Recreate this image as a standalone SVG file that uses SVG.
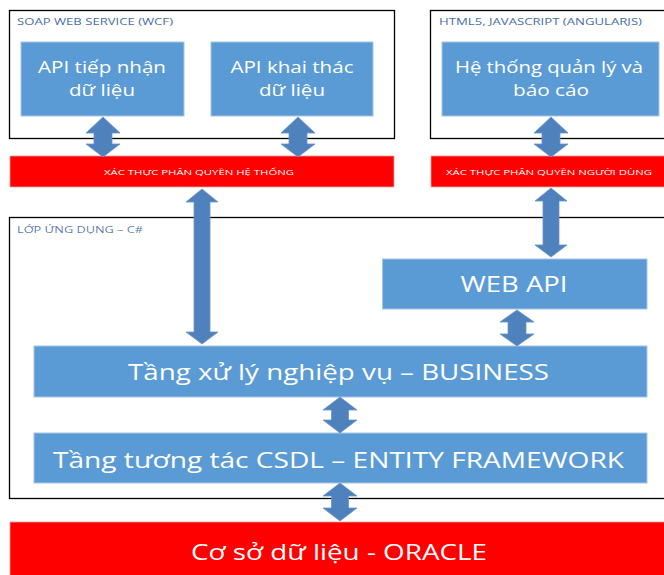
<svg xmlns="http://www.w3.org/2000/svg" width="664" height="575" viewBox="0 0 664 575">
<style>
.frame{fill:#fff;stroke:#000;stroke-width:1.3}
.blue{fill:#5b9bd5;stroke:#a9c4e3;stroke-width:1}
.red{fill:#ff0000;stroke:#e8a0a0;stroke-width:0.8}
.arr{fill:#4f81bd;stroke:#6a95c8;stroke-width:0.8}
.t{font-family:"Open Sans","Noto Sans","Liberation Sans",sans-serif;fill:#fff;text-anchor:middle}
.cap{font-family:"Open Sans","Noto Sans","Liberation Sans",sans-serif;fill:#4a6fa5}
</style>
<rect width="664" height="575" fill="#fff"/>
<g id="soap-frame">
<rect class="frame" x="9.5" y="10.5" width="385" height="128"/>
<text class="cap" x="17" y="25" font-size="9.5" textLength="156" lengthAdjust="spacingAndGlyphs">SOAP WEB SERVICE (WCF)</text>
</g>
<g id="html-frame">
<rect class="frame" x="430.5" y="10.5" width="240" height="128"/>
<text class="cap" x="439" y="25" font-size="9.5" textLength="203" lengthAdjust="spacingAndGlyphs">HTML5, JAVASCRIPT (ANGULARJS)</text>
</g>
<g id="app-frame">
<rect class="frame" x="9.5" y="217.5" width="670" height="281"/>
<text class="cap" x="17" y="233" font-size="9.5" textLength="126" lengthAdjust="spacingAndGlyphs" fill-opacity="0.9">LỚP ỨNG DỤNG – C#</text>
</g>
<g id="api-tiep-nhan">
<rect class="blue" x="21" y="42" width="163" height="74"/>
<text class="t" x="102" y="73" font-size="17" textLength="128" lengthAdjust="spacingAndGlyphs">API tiếp nhận</text>
<text class="t" x="102" y="96" font-size="17" textLength="66" lengthAdjust="spacingAndGlyphs">dữ liệu</text>
</g>
<g id="api-khai-thac">
<rect class="blue" x="211" y="42" width="162" height="74"/>
<text class="t" x="292" y="73" font-size="17" textLength="123" lengthAdjust="spacingAndGlyphs">API khai thác</text>
<text class="t" x="292" y="96" font-size="17" textLength="66" lengthAdjust="spacingAndGlyphs">dữ liệu</text>
</g>
<g id="he-thong">
<rect class="blue" x="442" y="42" width="217" height="74"/>
<text class="t" x="549" y="73" font-size="17" textLength="188" lengthAdjust="spacingAndGlyphs">Hệ thống quản lý và</text>
<text class="t" x="551" y="96" font-size="17" textLength="76" lengthAdjust="spacingAndGlyphs">báo cáo</text>
</g>
<g id="xac-thuc-he-thong">
<rect class="red" x="10" y="156" width="384" height="31"/>
<text class="t" x="199" y="175" font-size="8" textLength="190" lengthAdjust="spacingAndGlyphs">XÁC THỰC PHÂN QUYỀN HỆ THỐNG</text>
</g>
<g id="xac-thuc-nguoi-dung">
<rect class="red" x="431" y="156" width="240" height="31"/>
<text class="t" x="549" y="175" font-size="8" textLength="206" lengthAdjust="spacingAndGlyphs">XÁC THỰC PHÂN QUYỀN NGƯỜI DÙNG</text>
</g>
<g id="web-api">
<rect class="blue" x="382.5" y="259" width="264.5" height="50"/>
<text class="t" x="514" y="292" font-size="21" textLength="107" lengthAdjust="spacingAndGlyphs">WEB API</text>
</g>
<g id="business">
<rect class="blue" x="34" y="346" width="613" height="51"/>
<text class="t" x="338.5" y="380" font-size="21" textLength="421" lengthAdjust="spacingAndGlyphs">Tầng xử lý nghiệp vụ – BUSINESS</text>
</g>
<g id="entity-framework">
<rect class="blue" x="34" y="433" width="613" height="50"/>
<text class="t" x="338.5" y="468" font-size="21" textLength="571" lengthAdjust="spacingAndGlyphs">Tầng tương tác CSDL – ENTITY FRAMEWORK</text>
</g>
<g id="oracle">
<rect class="red" x="10" y="522" width="662" height="60"/>
<text class="t" x="339" y="560" font-size="22" textLength="296" lengthAdjust="spacingAndGlyphs">Cơ sở dữ liệu - ORACLE</text>
</g>
<g id="connectors">
<polygon class="arr" points="103,117 120,133 112,133 112,144 120,144 103,157 86,144 94,144 94,133 86,133"/>
<polygon class="arr" points="298,117 315,133 307,133 307,144 315,144 298,157 281,144 289,144 289,133 281,133"/>
<polygon class="arr" points="551,117 568,133 560,133 560,144 568,144 551,157 534,144 542,144 542,133 534,133"/>
<polygon class="arr" points="202,189 218,202 210,202 210,332 218,332 202,344 186,332 194,332 194,202 186,202"/>
<polygon class="arr" points="551,188 567,201 559,201 559,245 567,245 551,257 535,245 543,245 543,201 535,201"/>
<polygon class="arr" points="517,310 534,322 526,322 526,334 534,334 517,346 500,334 508,334 508,322 500,322"/>
<polygon class="arr" points="340,397 357,410 348.5,410 348.5,420 357,420 340,433 323,420 331.5,420 331.5,410 323,410"/>
<polygon class="arr" points="340,483 357,496 348.5,496 348.5,508 357,508 340,521 323,508 331.5,508 331.5,496 323,496"/>
</g>
</svg>
